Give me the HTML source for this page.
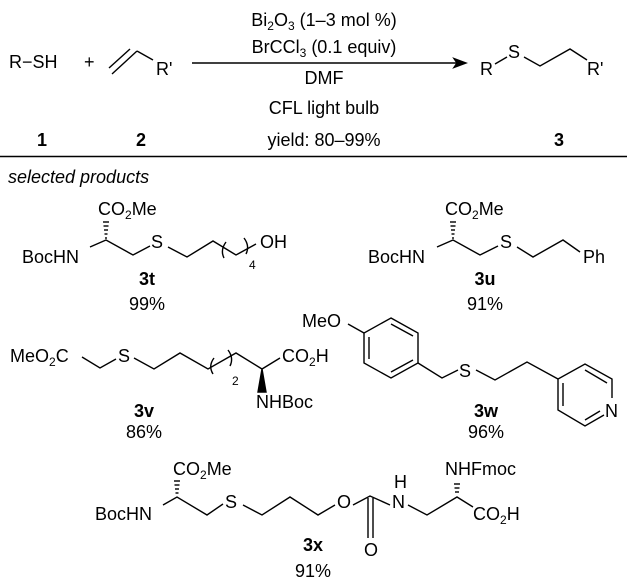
<!DOCTYPE html>
<html><head><meta charset="utf-8"><style>
html,body{margin:0;padding:0;background:#fff;}
svg{display:block;}
text{font-family:"Liberation Sans",Arial,sans-serif;font-size:18px;fill:#000;}
.s{font-size:12px;}
.b{font-weight:bold;}
line,polyline,path{stroke:#000;stroke-width:1.4;fill:none;}
</style></head><body>
<svg width="627" height="582" viewBox="0 0 627 582" xmlns="http://www.w3.org/2000/svg">
<!-- top scheme -->
<text x="9" y="68">R−SH</text>
<text x="84" y="68">+</text>
<line x1="112" y1="74" x2="137" y2="51"/>
<line x1="109" y1="68" x2="130" y2="49"/>
<polyline points="137,51 153,60"/>
<text x="156" y="75">R'</text>
<line x1="192" y1="63" x2="458" y2="63"/>
<path d="M466,63 L454,58.5 L457,63 L454,67.5 Z" style="fill:#000"/>
<text x="324" y="26" text-anchor="middle">Bi<tspan class="s" dy="4">2</tspan><tspan dy="-4">O</tspan><tspan class="s" dy="4">3</tspan><tspan dy="-4"> (1–3 mol %)</tspan></text>
<text x="324" y="53" text-anchor="middle">BrCCl<tspan class="s" dy="4">3</tspan><tspan dy="-4"> (0.1 equiv)</tspan></text>
<text x="324" y="84" text-anchor="middle">DMF</text>
<text x="324" y="114" text-anchor="middle">CFL light bulb</text>
<text x="324" y="146" text-anchor="middle">yield: 80–99%</text>
<text x="42" y="146" class="b" text-anchor="middle">1</text>
<text x="141" y="146" class="b" text-anchor="middle">2</text>
<text x="559" y="146" class="b" text-anchor="middle">3</text>
<text x="480" y="75">R</text>
<line x1="495" y1="64" x2="507" y2="57"/>
<text x="508" y="58">S</text>
<polyline points="524,57 540,66 570,49 587,60"/>
<text x="587" y="75">R'</text>
<line x1="0" y1="156.5" x2="627" y2="156.5"/>
<text x="8" y="183" font-style="italic">selected products</text>

<!-- 3t -->
<text x="98" y="215">CO<tspan class="s" dy="4">2</tspan><tspan dy="-4">Me</tspan></text>
<g stroke="#000" stroke-width="1.2">
<line x1="103" y1="222" x2="109" y2="222"/><line x1="103.5" y1="226" x2="108.5" y2="226"/><line x1="104" y1="230" x2="108" y2="230"/><line x1="104.5" y1="234" x2="107.5" y2="234"/><line x1="105" y1="238" x2="107" y2="238"/></g>
<text x="22" y="263">BocHN</text>
<polyline points="90,247 106,240 133,255 150,246"/>
<text x="151" y="248">S</text>
<polyline points="168,247 187,257 213,241 236,255 256,244"/>
<path d="M226,242 Q220,250 224,258"/><path d="M244,238 Q250,246 246,254"/>
<text x="249" y="269" class="s">4</text>
<text x="260" y="248">OH</text>
<text x="147" y="285" class="b" text-anchor="middle">3t</text>
<text x="147" y="310" text-anchor="middle">99%</text>

<!-- 3u -->
<text x="445" y="215">CO<tspan class="s" dy="4">2</tspan><tspan dy="-4">Me</tspan></text>
<g stroke="#000" stroke-width="1.2">
<line x1="450" y1="222" x2="456" y2="222"/><line x1="450.5" y1="226" x2="455.5" y2="226"/><line x1="451" y1="230" x2="455" y2="230"/><line x1="451.5" y1="234" x2="454.5" y2="234"/><line x1="452" y1="238" x2="454" y2="238"/></g>
<text x="368" y="263">BocHN</text>
<polyline points="437,247 453,240 480,255 498,246"/>
<text x="500" y="248">S</text>
<polyline points="517,247 533,257 563,240 580,252"/>
<text x="583" y="263">Ph</text>
<text x="485" y="285" class="b" text-anchor="middle">3u</text>
<text x="485" y="310" text-anchor="middle">91%</text>

<!-- 3v -->
<text x="10" y="362">MeO<tspan class="s" dy="4">2</tspan><tspan dy="-4">C</tspan></text>
<polyline points="82,357 100,368 116,359"/>
<text x="118" y="362">S</text>
<polyline points="134,358 154,369 180,353 208,369 236,353 262,369 280,358"/>
<path d="M214,358 Q208,366 213,374"/><path d="M228,350 Q234,358 230,366"/>
<text x="232" y="385" class="s">2</text>
<text x="282" y="362">CO<tspan class="s" dy="4">2</tspan><tspan dy="-4">H</tspan></text>
<path d="M262,369 L258,392 L266,392 Z" style="fill:#000"/>
<text x="256" y="408">NHBoc</text>
<text x="144" y="417" class="b" text-anchor="middle">3v</text>
<text x="144" y="438" text-anchor="middle">86%</text>

<!-- 3w -->
<text x="302" y="327">MeO</text>
<line x1="348" y1="324" x2="364" y2="333"/>
<polygon points="391,318 418,333 418,363 391,378 364,363 364,333" style="fill:none;stroke:#000;stroke-width:1.4"/>
<line x1="369" y1="337" x2="369" y2="359"/><line x1="391" y1="324" x2="413" y2="336" /><line x1="391" y1="372" x2="413" y2="360"/>
<polyline points="418,363 442,378 458,370"/>
<text x="459" y="377">S</text>
<polyline points="476,370 495,380 527,362 558,379"/>
<polyline points="612,398 612,379 585,364 558,379 558,410 585,426 604,415"/>
<line x1="563" y1="383" x2="563" y2="406"/><line x1="585" y1="370" x2="607" y2="383"/><line x1="585" y1="420" x2="600" y2="411"/>
<text x="605" y="417">N</text>
<text x="486" y="417" class="b" text-anchor="middle">3w</text>
<text x="486" y="438" text-anchor="middle">96%</text>

<!-- 3x -->
<text x="173" y="475">CO<tspan class="s" dy="4">2</tspan><tspan dy="-4">Me</tspan></text>
<g stroke="#000" stroke-width="1.2">
<line x1="174" y1="481" x2="180" y2="481"/><line x1="174.5" y1="485" x2="179.5" y2="485"/><line x1="175" y1="489" x2="179" y2="489"/><line x1="175.5" y1="493" x2="178.5" y2="493"/></g>
<text x="95" y="520">BocHN</text>
<polyline points="163,505 177,497 207,515 223,504"/>
<text x="225" y="508">S</text>
<polyline points="243,505 262,515 290,497 318,515 335,505"/>
<text x="337" y="508">O</text>
<polyline points="353,505 370,496 390,505"/>
<line x1="368" y1="498" x2="368" y2="538"/><line x1="373" y1="498" x2="373" y2="538"/>
<text x="364" y="556">O</text>
<text x="392" y="508">N</text>
<text x="394" y="488">H</text>
<polyline points="408,505 427,515 457,497 473,507"/>
<g stroke="#000" stroke-width="1.2">
<line x1="454" y1="484" x2="460" y2="484"/><line x1="454.5" y1="488" x2="459.5" y2="488"/><line x1="455" y1="492" x2="459" y2="492"/></g>
<text x="445" y="475">NHFmoc</text>
<text x="473" y="520">CO<tspan class="s" dy="4">2</tspan><tspan dy="-4">H</tspan></text>
<text x="313" y="551" class="b" text-anchor="middle">3x</text>
<text x="313" y="577" text-anchor="middle">91%</text>
</svg>
</body></html>
